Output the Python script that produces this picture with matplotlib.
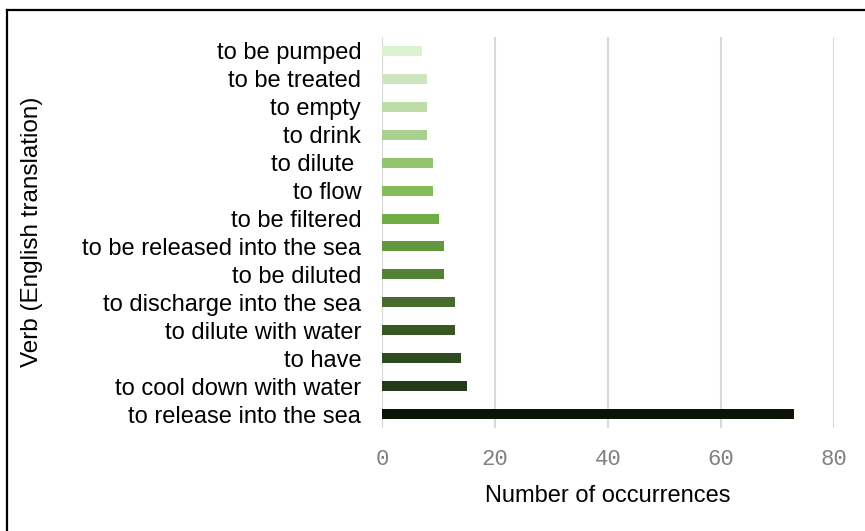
import matplotlib
matplotlib.use("Agg")
import matplotlib.pyplot as plt
from matplotlib.lines import Line2D

verbs = ["to be pumped", "to be treated", "to empty", "to drink", "to dilute ",
         "to flow", "to be filtered", "to be released into the sea", "to be diluted",
         "to discharge into the sea", "to dilute with water", "to have",
         "to cool down with water", "to release into the sea"]
counts = [7, 8, 8, 8, 9, 9, 10, 11, 11, 13, 13, 14, 15, 73]
bar_colors = ["#d9f2d0", "#cde5c0", "#bddca8", "#a9d18e", "#92c46e", "#84bc5c",
              "#70ad47", "#62993e", "#548235", "#476c2d", "#385723", "#2e4a1f",
              "#243a18", "#0b1406"]
xticks = [0, 20, 40, 60, 80]

plt.rcParams['font.family'] = ['Liberation Sans', 'DejaVu Sans']

fig = plt.figure(figsize=(8.65, 5.31), dpi=100)
ax = fig.add_axes([382/865, 1-428/531, (834-382)/865, (428-37)/531])

ypos = list(range(len(verbs)))
ax.barh(ypos, counts, height=0.36, color=bar_colors, zorder=3)
ax.set_ylim(len(verbs)-0.5, -0.5)
ax.set_xlim(0, 80)

ax.set_yticks(ypos)
ax.set_yticklabels(verbs, fontsize=17, color="black")
ax.set_xticks(xticks)
ax.set_xticklabels([str(t) for t in xticks], fontsize=16, color="#808080",
                   family="Liberation Mono")
ax.tick_params(axis="both", length=0)
ax.tick_params(axis="y", pad=15)
ax.tick_params(axis="x", pad=15)

ax.grid(axis="x", color="#d9d9d9", linewidth=1.5, zorder=0)
ax.axvline(0, color="#d9d9d9", linewidth=1.5, zorder=1)
for s in ax.spines.values():
    s.set_visible(False)

ax.set_xlabel("Number of occurrences", fontsize=17, color="black", labelpad=11)
fig.text(32/865, 1-232/531, "Verb (English translation)", rotation=90,
         fontsize=17.5, ha="center", va="center")

# outer frame (runs off the right and bottom of the picture)
fig.add_artist(Line2D([7/865, 7/865], [0, 1-10/531], color="black", lw=1.6,
                      transform=fig.transFigure))
fig.add_artist(Line2D([7/865, 1], [1-10/531, 1-10/531], color="black", lw=1.6,
                      transform=fig.transFigure))

fig.savefig("out.png", dpi=100)
